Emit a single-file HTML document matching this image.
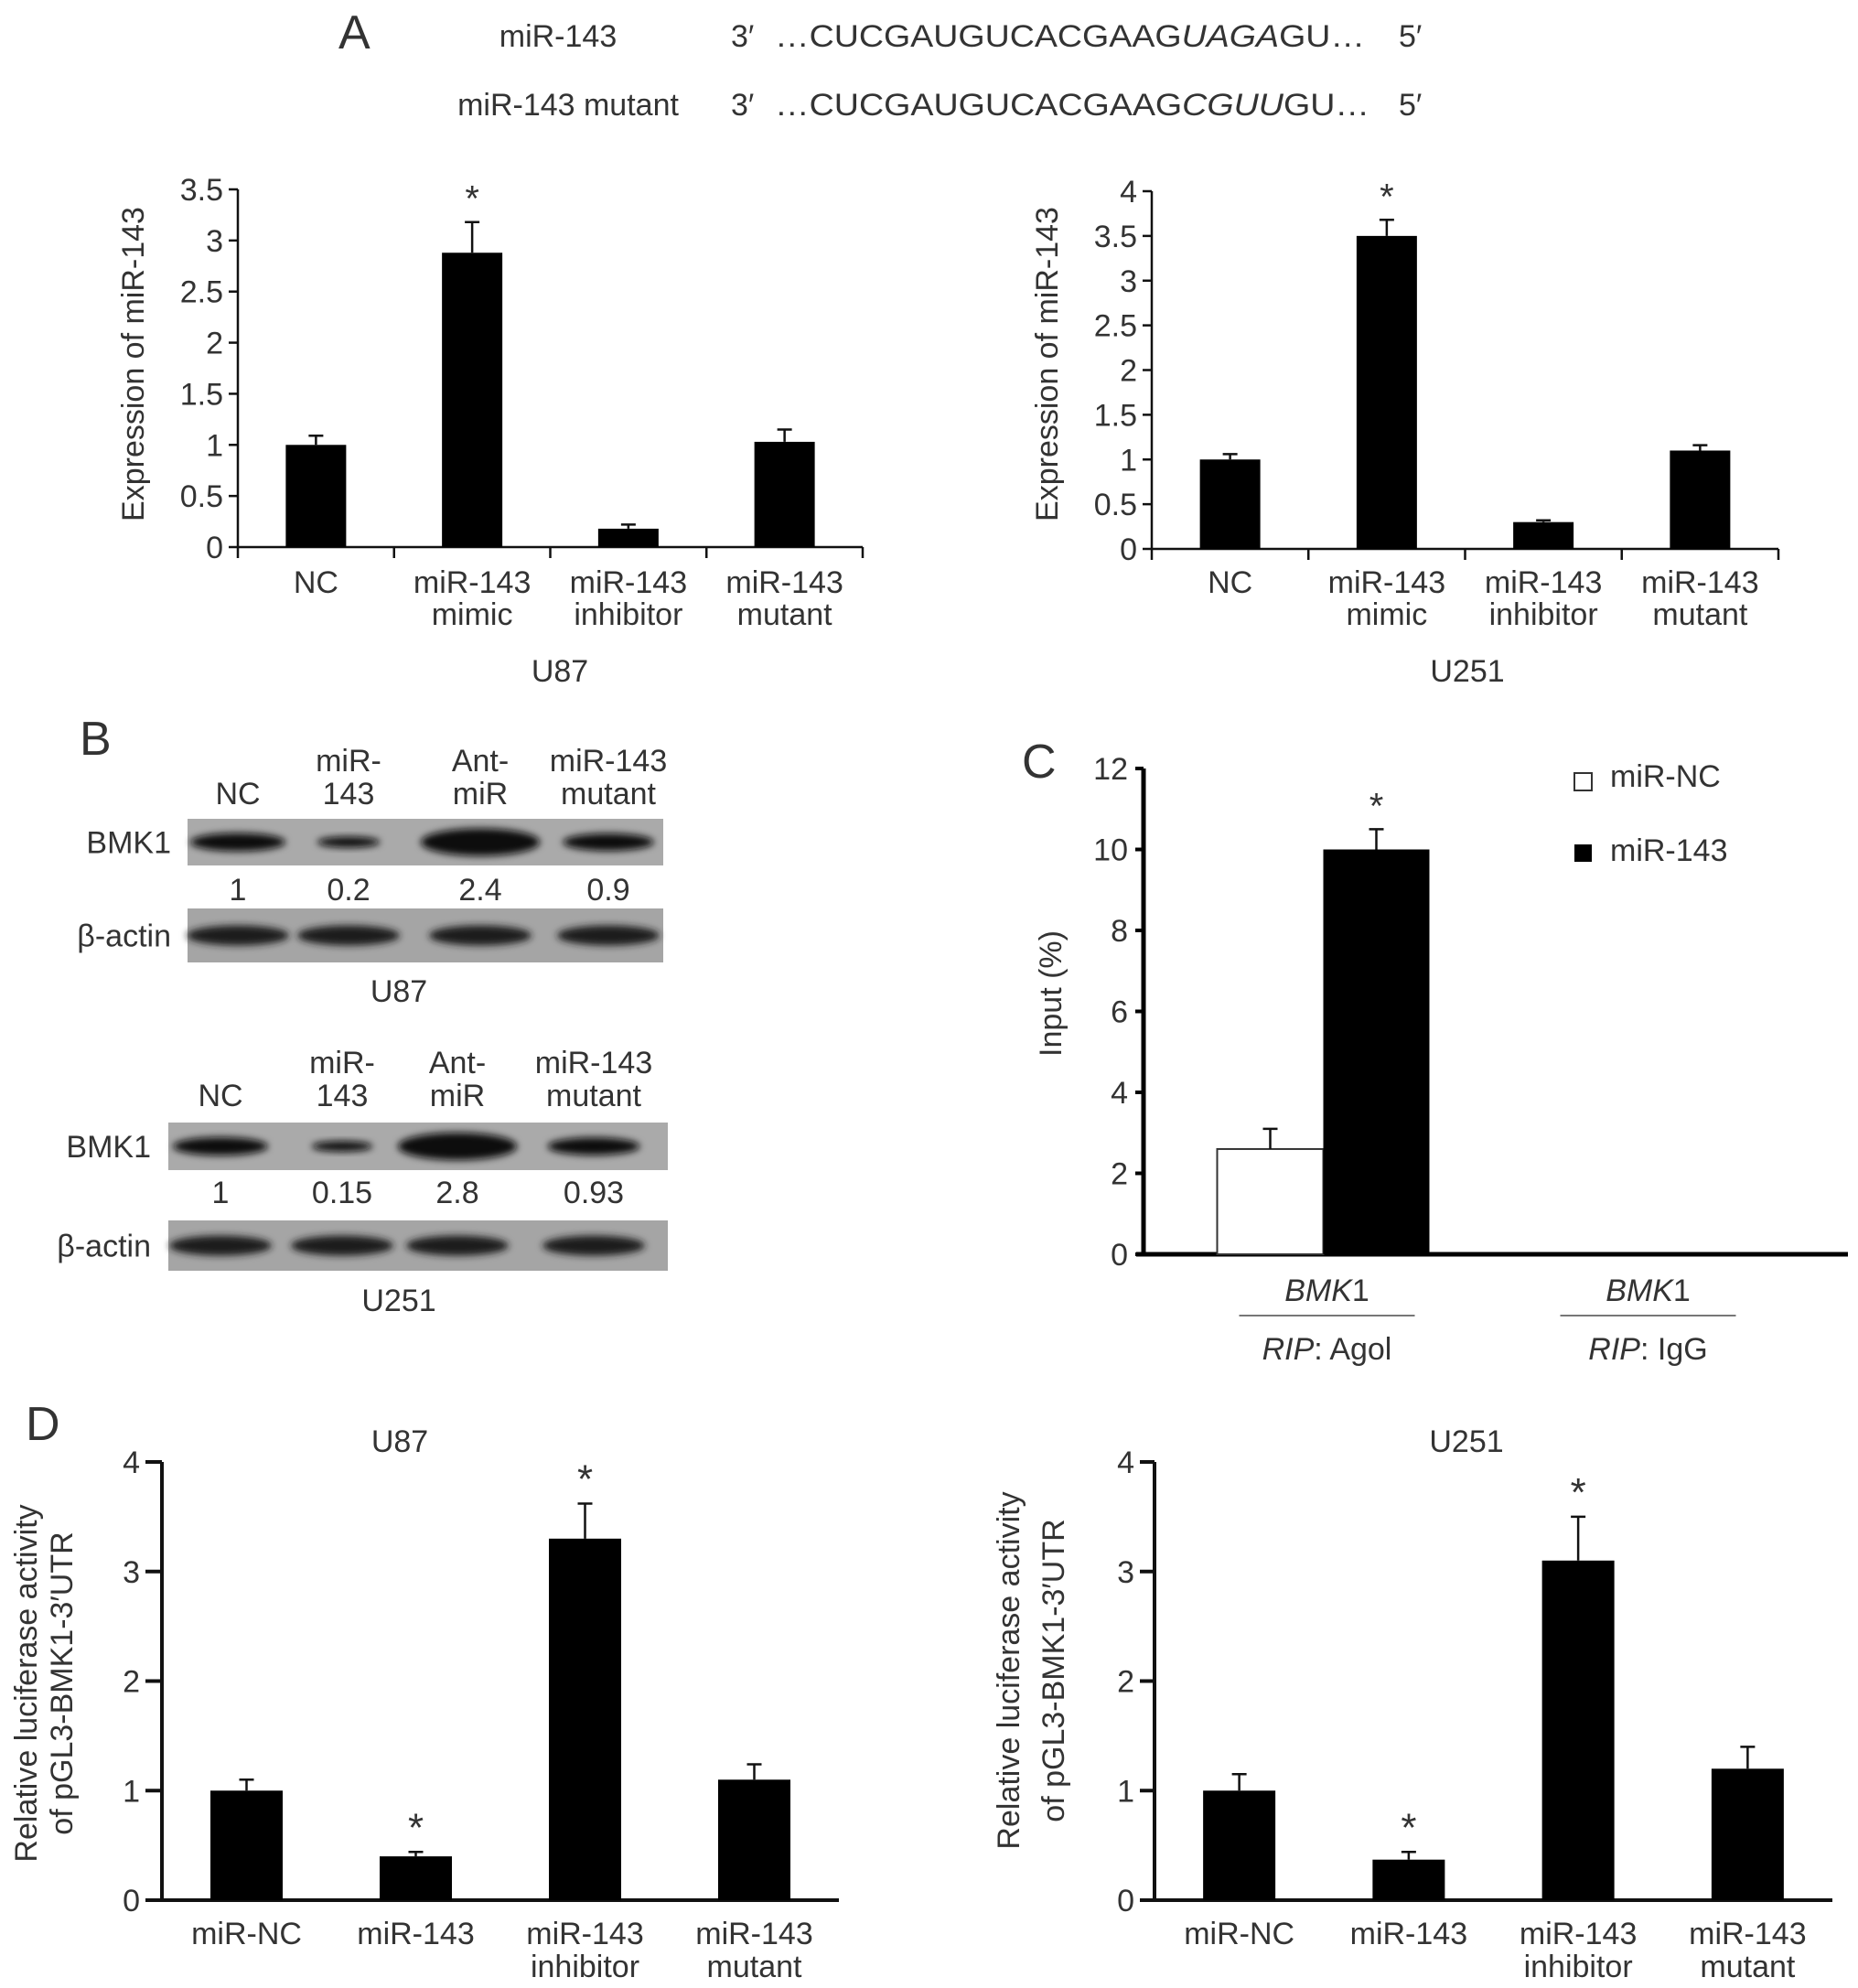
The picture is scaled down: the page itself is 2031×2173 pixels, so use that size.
<!DOCTYPE html>
<html><head><meta charset="utf-8">
<style>
html,body{margin:0;padding:0;background:#fff;}
svg{display:block;font-family:"Liberation Sans",Arial,sans-serif;}
text{fill:#333;}
</style></head>
<body>
<svg id="fig" width="2031" height="2173" viewBox="0 0 2031 2173" xmlns="http://www.w3.org/2000/svg">
<defs>
<filter id="blur" x="-20%" y="-50%" width="140%" height="200%"><feGaussianBlur stdDeviation="4"/></filter>
</defs>
<!-- Panel A header -->
<text x="370" y="53" font-size="52">A</text>
<text x="610" y="51" font-size="34" text-anchor="middle">miR-143</text>
<text x="621" y="126" font-size="34" text-anchor="middle">miR-143 mutant</text>
<text x="799" y="51" font-size="34">3′</text>
<text x="799" y="126" font-size="34">3′</text>
<text x="847" y="51" font-size="34" textLength="645" lengthAdjust="spacingAndGlyphs">…CUCGAUGUCACGAAG<tspan font-style="italic">UAGA</tspan>GU…</text>
<text x="847" y="126" font-size="34" textLength="650" lengthAdjust="spacingAndGlyphs">…CUCGAUGUCACGAAG<tspan font-style="italic">CGUU</tspan>GU…</text>
<text x="1529" y="51" font-size="34">5′</text>
<text x="1529" y="126" font-size="34">5′</text>

<!-- Panel B -->
<text x="87" y="825" font-size="52">B</text>
<g id="blots"></g>

<!-- Panel C -->
<text x="1117" y="850" font-size="52">C</text>
<!-- Panel D -->
<text x="28" y="1574" font-size="52">D</text>
<g id="charts"></g>
</svg>
<script>
// ---- Panel A U87 ----
const aCats = [["NC"],["miR-143","mimic"],["miR-143","inhibitor"],["miR-143","mutant"]];
const aU87Vals = [1.0, 2.88, 0.18, 1.03];
const aU87Errs = [0.09, 0.30, 0.04, 0.12];
const aU87Sig = [false, true, false, false];
const aU87Ticks = ["0","0.5","1","1.5","2","2.5","3","3.5"];
// ---- Panel A U251 ----
const aU251Vals = [1.0, 3.5, 0.3, 1.1];
const aU251Errs = [0.06, 0.18, 0.02, 0.06];
const aU251Sig = [false, true, false, false];
const aU251Ticks = ["0","0.5","1","1.5","2","2.5","3","3.5","4"];
// ---- Panel C ----
const cGroups = ["Agol","IgG"];
const cNCVals = [2.6, 0];
const cNCErrs = [0.5, 0];
const c143Vals = [10.0, 0];
const c143Errs = [0.5, 0];
const cTicks = ["0","2","4","6","8","10","12"];
// ---- Panel D ----
const dCats = [["miR-NC"],["miR-143"],["miR-143","inhibitor"],["miR-143","mutant"]];
const dU87Vals = [1.0, 0.4, 3.3, 1.1];
const dU87Errs = [0.1, 0.04, 0.32, 0.14];
const dU87Sig = [false, true, true, false];
const dU251Vals = [1.0, 0.37, 3.1, 1.2];
const dU251Errs = [0.15, 0.07, 0.4, 0.2];
const dU251Sig = [false, true, true, false];
const dTicks = ["0","1","2","3","4"];
// ---- Panel B values ----
const bU87Quant = ["1","0.2","2.4","0.9"];
const bU251Quant = ["1","0.15","2.8","0.93"];
const bU87Band = [1.0, 0.2, 2.4, 0.9];
const bU251Band = [1.0, 0.15, 2.8, 0.93];

const NS = "http://www.w3.org/2000/svg";
const charts = document.getElementById('charts');
const blots = document.getElementById('blots');
function mk(parent, tag, attrs, txt){
  const e = document.createElementNS(NS, tag);
  for (const k in attrs) e.setAttribute(k, attrs[k]);
  if (txt !== undefined) e.textContent = txt;
  parent.appendChild(e);
  return e;
}

function barChart(o){
  const g = mk(charts, 'g', {});
  
  
  const y = v => o.y0 - (v / o.vmax) * (o.y0 - o.ytop);
  const n = o.vals.length;
  const band = (o.x1 - o.x0) / n;
  const cx = i => o.x0 + band * (i + 0.5);
  let e = mk(g, 'line', {x1:o.x0, y1:o.ytop, x2:o.x0, y2:o.y0 + (o.tickDown||0), stroke:'#111', 'stroke-width':o.aw});
  
  
  e = mk(g, 'line', {x1:o.xstart, y1:o.y0, x2:o.x1, y2:o.y0, stroke:'#111', 'stroke-width':o.aw});
  
  
  o.ticks.forEach((t, i) => {
    const v = o.tickStep * i;
    const l = mk(g, 'line', {x1:o.x0 - o.tl, y1:y(v), x2:o.x0, y2:y(v), stroke:'#111', 'stroke-width':o.aw});
    
    
    const tx = mk(g, 'text', {x:o.x0 - o.tl - 6, y:y(v) + 12, 'font-size':34, 'text-anchor':'end'}, t);
    
    
  });
  if (o.catTicks) {
    for (let i = 1; i <= n; i++) {
      const l = mk(g, 'line', {x1:o.x0 + band*i, y1:o.y0, x2:o.x0 + band*i, y2:o.y0 + o.tickDown, stroke:'#111', 'stroke-width':o.aw});
      
      
    }
  }
  o.vals.forEach((v, i) => {
    const c = cx(i);
    const r = mk(g, 'rect', {x:c - o.bw/2, y:y(v), width:o.bw, height:o.y0 - y(v), fill:'#000'});
    
    
    const top = y(v + o.errs[i]);
    const eb = mk(g, 'path', {d:`M${c},${y(v)}V${top}M${c-8},${top}H${c+8}`, stroke:'#111', 'stroke-width':2.5, fill:'none'});
    
    
    if (o.sig[i]) {
      const s = mk(g, 'text', {x:c, y:top - 12, 'font-size':o.starSize, 'text-anchor':'middle'}, '*');
      
      
    }
    o.cats[i].forEach((ln, k) => {
      const t = mk(g, 'text', {x:c, y:o.labY + k*o.labDy, 'font-size':34, 'text-anchor':'middle'}, ln);
      
      
    });
  });
  o.title.forEach((ln, k) => {
    const t = mk(g, 'text', {x:0, y:0, 'font-size':34, 'text-anchor':'middle', transform:`translate(${o.titleX[k]},${o.titleY}) rotate(-90)`}, ln);
    
    
  });
  const cap = mk(g, 'text', {x:o.capX, y:o.capY, 'font-size':34, 'text-anchor':'middle'}, o.cap);
  
  
}

barChart({name:'chart-a-u87', vals:aU87Vals, errs:aU87Errs, sig:aU87Sig, cats:aCats, ticks:aU87Ticks, tickStep:0.5, vmax:3.5,
  x0:260, x1:943, xstart:260, y0:598, ytop:207, aw:2.5, tl:10, tickDown:12, catTicks:true, bw:66, starSize:40,
  labY:648, labDy:35, title:["Expression of miR-143"], titleX:[157], titleY:398, cap:"U87", capX:612, capY:745});
barChart({name:'chart-a-u251', vals:aU251Vals, errs:aU251Errs, sig:aU251Sig, cats:aCats, ticks:aU251Ticks, tickStep:0.5, vmax:4,
  x0:1259, x1:1944, xstart:1259, y0:600, ytop:209, aw:2.5, tl:10, tickDown:12, catTicks:true, bw:66, starSize:40,
  labY:648, labDy:35, title:["Expression of miR-143"], titleX:[1156], titleY:398, cap:"U251", capX:1604, capY:745});
barChart({name:'chart-d-u87', vals:dU87Vals, errs:dU87Errs, sig:dU87Sig, cats:dCats, ticks:dTicks, tickStep:1, vmax:4,
  x0:177, x1:917, xstart:159, y0:2077, ytop:1598, aw:4, tl:18, tickDown:0, catTicks:false, bw:79, starSize:44,
  labY:2125, labDy:36, title:["Relative luciferase activity","of pGL3-BMK1-3′UTR"], titleX:[40,79], titleY:1840, cap:"U87", capX:437, capY:1587});
barChart({name:'chart-d-u251', vals:dU251Vals, errs:dU251Errs, sig:dU251Sig, cats:dCats, ticks:dTicks, tickStep:1, vmax:4,
  x0:1262, x1:2003, xstart:1246, y0:2077, ytop:1598, aw:4, tl:16, tickDown:0, catTicks:false, bw:79, starSize:44,
  labY:2125, labDy:36, title:["Relative luciferase activity","of pGL3-BMK1-3′UTR"], titleX:[1114,1163], titleY:1826, cap:"U251", capX:1603, capY:1587});

// ---- Panel C chart ----
(function(){
  const g = mk(charts, 'g', {});
  
  
  const x0 = 1250, x1 = 2020, y0 = 1371, ytop = 840, vmax = 12;
  const y = v => y0 - (v / vmax) * (y0 - ytop);
  const band = (x1 - x0) / cGroups.length;
  let e = mk(g, 'line', {x1:x0, y1:ytop, x2:x0, y2:y0, stroke:'#000', 'stroke-width':5});
  
  
  e = mk(g, 'line', {x1:x0 - 8, y1:y0, x2:x1, y2:y0, stroke:'#000', 'stroke-width':5});
  
  
  cTicks.forEach((t, i) => {
    const v = i * 2;
    const l = mk(g, 'line', {x1:x0 - 9, y1:y(v), x2:x0, y2:y(v), stroke:'#000', 'stroke-width':4});
    
    
    const tx = mk(g, 'text', {x:1233, y:y(v) + 12, 'font-size':34, 'text-anchor':'end'}, t);
    
    
  });
  const bw = 116;
  cGroups.forEach((grp, i) => {
    const c = x0 + band * (i + 0.5) + 4;
    if (cNCVals[i] > 0) {
      const r = mk(g, 'rect', {x:c - bw, y:y(cNCVals[i]), width:bw, height:y0 - y(cNCVals[i]), fill:'#fff', stroke:'#333', 'stroke-width':2});
      
      
      const ex = c - bw/2, top = y(cNCVals[i] + cNCErrs[i]);
      const eb = mk(g, 'path', {d:`M${ex},${y(cNCVals[i])}V${top}M${ex-8},${top}H${ex+8}`, stroke:'#111', 'stroke-width':2.5, fill:'none'});
      
      
    }
    if (c143Vals[i] > 0) {
      const r = mk(g, 'rect', {x:c, y:y(c143Vals[i]), width:bw, height:y0 - y(c143Vals[i]), fill:'#000'});
      
      
      const ex = c + bw/2, top = y(c143Vals[i] + c143Errs[i]);
      const eb = mk(g, 'path', {d:`M${ex},${y(c143Vals[i])}V${top}M${ex-8},${top}H${ex+8}`, stroke:'#111', 'stroke-width':2.5, fill:'none'});
      
      
      const s = mk(g, 'text', {x:ex, y:top - 12, 'font-size':40, 'text-anchor':'middle'}, '*');
      
      
    }
    const gc = x0 + band * (i + 0.5) + 8 - i * 34;
    const t1 = mk(g, 'text', {x:gc, y:1422, 'font-size':34, 'text-anchor':'middle'});
    
    
    mk(t1, 'tspan', {'font-style':'italic'}, 'BMK');
    mk(t1, 'tspan', {}, '1');
    const ln = mk(g, 'line', {x1:gc - 96, y1:1438, x2:gc + 96, y2:1438, stroke:'#777', 'stroke-width':2});
    
    
    const t2 = mk(g, 'text', {x:gc, y:1486, 'font-size':34, 'text-anchor':'middle'});
    
    
    mk(t2, 'tspan', {'font-style':'italic'}, 'RIP');
    mk(t2, 'tspan', {}, ': ' + grp);
  });
  const yt = mk(g, 'text', {x:0, y:0, 'font-size':34, 'text-anchor':'middle', transform:'translate(1160,1086) rotate(-90)'}, 'Input (%)');
  
  
  const lb1 = mk(g, 'rect', {x:1721, y:845, width:19, height:19, fill:'#fff', stroke:'#333', 'stroke-width':2});
  
  
  const lt1 = mk(g, 'text', {x:1760, y:860, 'font-size':34}, 'miR-NC');
  
  
  const lb2 = mk(g, 'rect', {x:1721, y:923, width:19, height:19, fill:'#000'});
  
  
  const lt2 = mk(g, 'text', {x:1760, y:941, 'font-size':34}, 'miR-143');
  
  
})();

// ---- Panel B blots ----
function blot(o){
  const g = mk(blots, 'g', {});
  
  
  o.heads.forEach((h, i) => {
    h.forEach((ln, k) => {
      const t = mk(g, 'text', {x:o.cx[i], y:o.headY[k + (2 - h.length)], 'font-size':34, 'text-anchor':'middle'}, ln);
      
      
    });
  });
  const r1 = mk(g, 'rect', {x:o.x, y:o.r1[0], width:o.w, height:o.r1[1] - o.r1[0], fill:'#aaa'});
  
  
  const mid1 = (o.r1[0] + o.r1[1]) / 2;
  o.band.forEach((b, i) => {
    const el = mk(g, 'ellipse', {cx:o.cx[i], cy:mid1, rx:30 + 22 * Math.min(b, 1.6), ry:5 + 5 * Math.min(b, 2), fill:'#111', filter:'url(#blur)'});
    
    
  });
  const l1 = mk(g, 'text', {x:o.labR, y:mid1 + 12, 'font-size':34, 'text-anchor':'end'}, 'BMK1');
  
  
  o.quant.forEach((q, i) => {
    const t = mk(g, 'text', {x:o.cx[i], y:o.qY, 'font-size':34, 'text-anchor':'middle'}, q);
    
    
  });
  const r2 = mk(g, 'rect', {x:o.x, y:o.r2[0], width:o.w, height:o.r2[1] - o.r2[0], fill:'#a5a5a5'});
  
  
  const mid2 = (o.r2[0] + o.r2[1]) / 2;
  o.cx.forEach((c, i) => {
    const el = mk(g, 'ellipse', {cx:c, cy:mid2, rx:56, ry:11, fill:'#1a1a1a', filter:'url(#blur)'});
    
    
  });
  const l2 = mk(g, 'text', {x:o.labR, y:mid2 + 12, 'font-size':34, 'text-anchor':'end'}, 'β-actin');
  
  
  const cap = mk(g, 'text', {x:436, y:o.capY, 'font-size':34, 'text-anchor':'middle'}, o.cap);
  
  
}
const bHeads = [["NC"],["miR-","143"],["Ant-","miR"],["miR-143","mutant"]];
blot({name:'blot-u87', heads:bHeads, cx:[260,381,525,665], headY:[843,879], x:205, w:520, r1:[895,946], r2:[993,1052],
  band:bU87Band, quant:bU87Quant, qY:984, labR:187, cap:'U87', capY:1095});
blot({name:'blot-u251', heads:bHeads, cx:[241,374,500,649], headY:[1173,1209], x:184, w:546, r1:[1227,1279], r2:[1334,1389],
  band:bU251Band, quant:bU251Quant, qY:1315, labR:165, cap:'U251', capY:1433});
</script>
</body></html>
